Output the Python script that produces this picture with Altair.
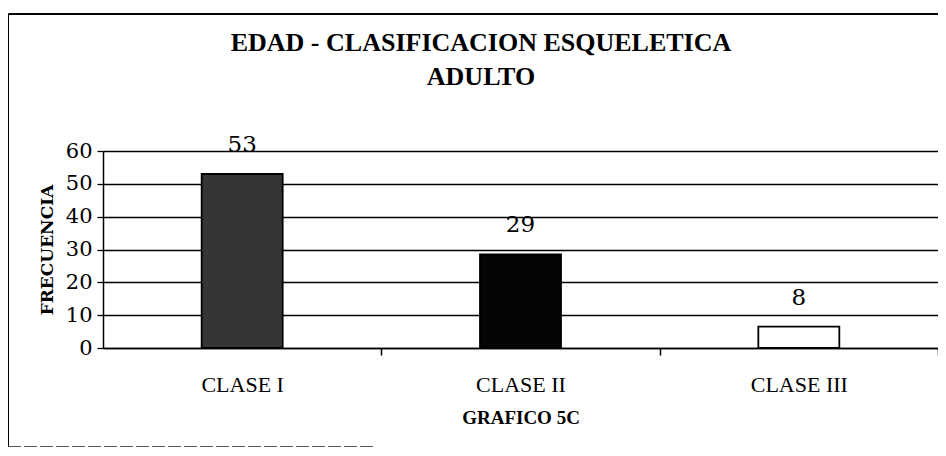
import altair as alt
import pandas as pd

categories = ["CLASE I", "CLASE II", "CLASE III"]
bar_heights = [53, 28.5, 6.5]
bar_labels = ["53", "29", "8"]
bar_fills = ["#353535", "#050505", "#ffffff"]
y_ticks = [0, 10, 20, 30, 40, 50, 60]
title_lines = ["EDAD - CLASIFICACION ESQUELETICA", "ADULTO"]

df = pd.DataFrame({"cat": categories, "h": bar_heights, "lab": bar_labels, "fill": bar_fills})

SERIF = "Liberation Serif"
NUM = "DejaVu Serif"

x = alt.X(
    "cat:N",
    sort=categories,
    scale=alt.Scale(paddingInner=0.709, paddingOuter=0.3545),
    axis=alt.Axis(
        title="GRAFICO 5C",
        titleFont=SERIF,
        titleFontSize=19,
        titleFontWeight="bold",
        titleColor="black",
        titlePadding=13,
        labelAngle=0,
        labelFont=SERIF,
        labelFontSize=22,
        labelColor="black",
        labelPadding=19,
        tickOffset=139,
        labelOffset=-139,
        tickSize=7,
        tickColor="black",
        tickWidth=1.5,
        domainColor="black",
        domainWidth=1.5,
        grid=False,
    ),
)
y = alt.Y(
    "h:Q",
    scale=alt.Scale(domain=[0, 60]),
    axis=alt.Axis(
        title="FRECUENCIA",
        titleFont=NUM,
        titleFontSize=17,
        titleFontWeight="bold",
        titleColor="black",
        titlePadding=9,
        values=y_ticks,
        labelOverlap=False,
        labelFont=NUM,
        labelFontSize=21,
        labelColor="black",
        labelPadding=5,
        tickSize=6,
        tickColor="black",
        tickWidth=1.3,
        domainColor="black",
        domainWidth=1.5,
        grid=True,
        gridColor="black",
        gridWidth=1.3,
    ),
)

bars = alt.Chart(df).mark_bar(stroke="black", strokeWidth=1.8).encode(
    x=x, y=y, fill=alt.Fill("fill:N", scale=None)
)
labels = alt.Chart(df).mark_text(
    font=NUM, fontSize=23, color="black", dy=-29, baseline="middle"
).encode(x=x, y=y, text="lab:N")

title1 = alt.Chart(pd.DataFrame({"t": [title_lines[0]]})).mark_text(
    font=SERIF, fontSize=26, fontWeight="bold", color="black", baseline="middle", align="center"
).encode(x=alt.value(378), y=alt.value(-108), text="t:N")
title2 = alt.Chart(pd.DataFrame({"t": [title_lines[1]]})).mark_text(
    font=SERIF, fontSize=26, fontWeight="bold", color="black", baseline="middle", align="center"
).encode(x=alt.value(378), y=alt.value(-74), text="t:N")

frame_top = alt.Chart(df).mark_rule(color="black", strokeWidth=1.3).encode(
    x=alt.value(-94.5), x2=alt.value(840), y=alt.value(-137)
)
frame_left = alt.Chart(df).mark_rule(color="black", strokeWidth=1).encode(
    x=alt.value(-94.5), y=alt.value(-137), y2=alt.value(296)
)
frame_bottom = alt.Chart(df).mark_rule(color="#555555", strokeWidth=1, strokeDash=[12, 4]).encode(
    x=alt.value(-94.5), x2=alt.value(270), y=alt.value(295.5)
)

chart = (
    alt.layer(bars, labels, frame_top, frame_left, frame_bottom, title1, title2)
    .properties(
        width=835,
        height=197,
        autosize=alt.AutoSizeParams(type="none"),
        padding={"left": 95, "top": 143, "right": 0, "bottom": 100},
    )
    .configure_view(stroke="black", strokeWidth=1.3)
    .configure(background="white")
)

chart.save("out.html", embed_options={"renderer": "svg", "actions": False})
